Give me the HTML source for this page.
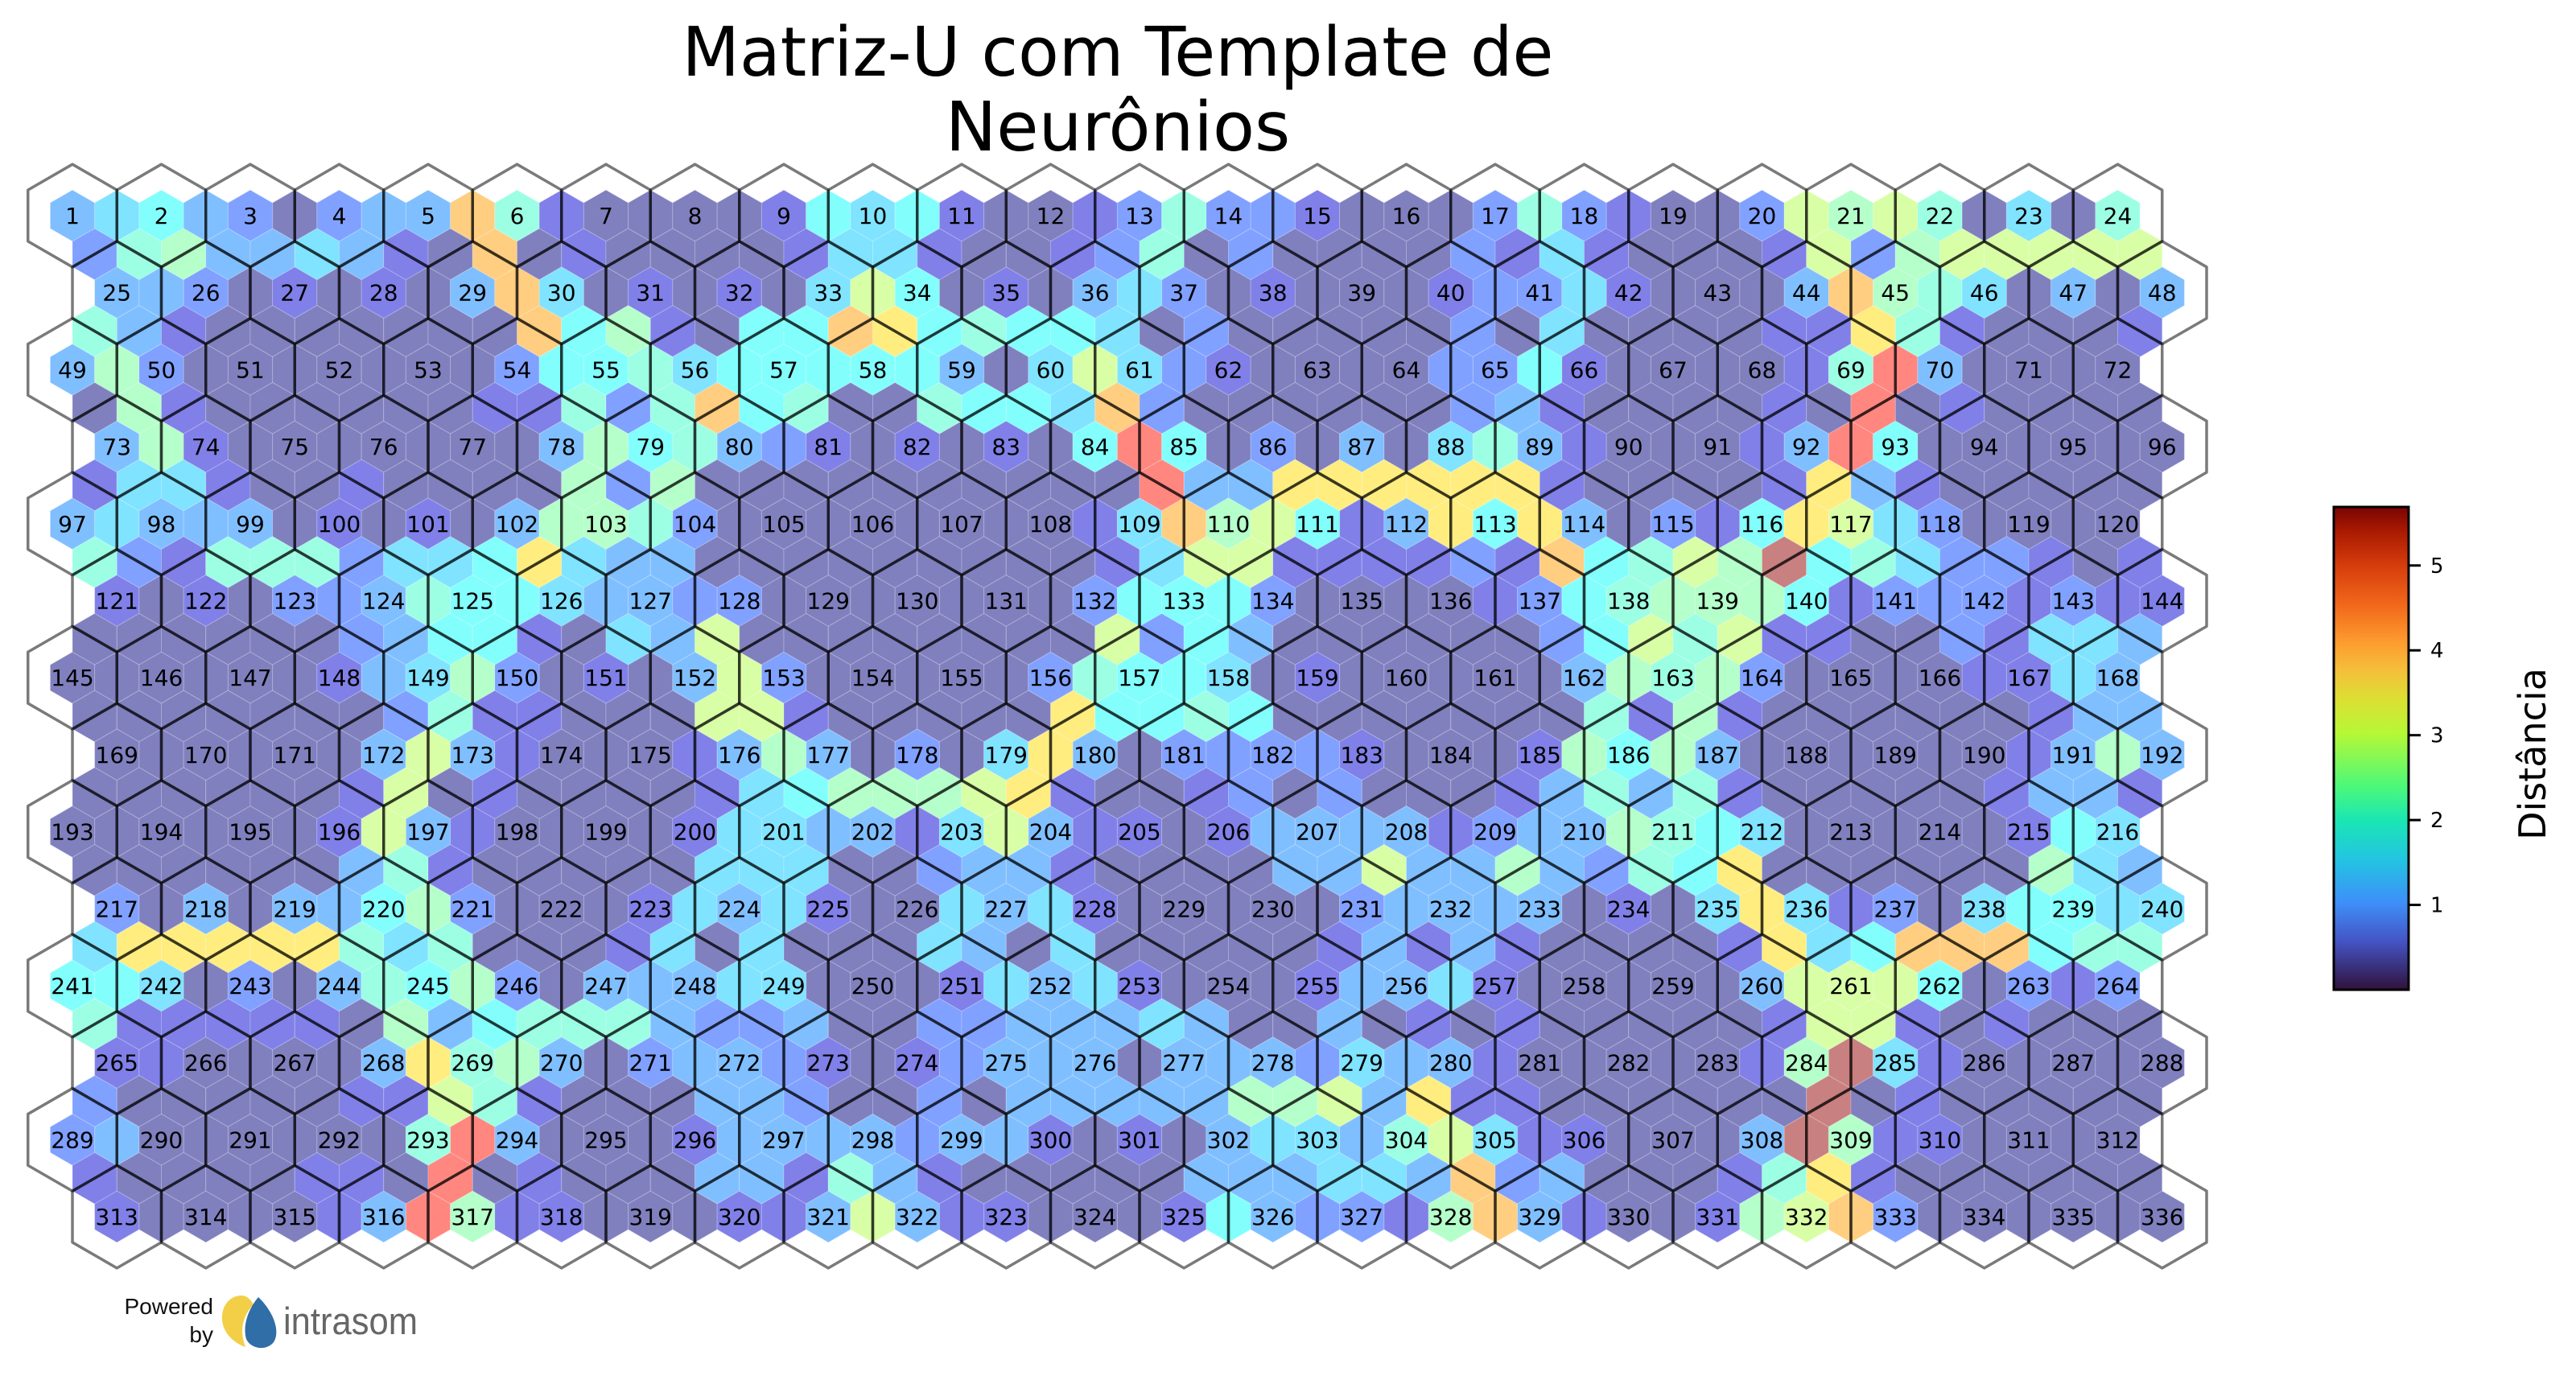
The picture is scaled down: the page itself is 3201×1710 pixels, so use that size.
<!DOCTYPE html>
<html><head><meta charset="utf-8">
<style>
html,body{margin:0;padding:0;background:#fff;}
svg{display:block;font-family:"DejaVu Sans","Liberation Sans",sans-serif;}
</style></head>
<body>
<svg id="chart" width="3201" height="1710" viewBox="0 0 3201 1710" xmlns="http://www.w3.org/2000/svg">
  <defs>
    <linearGradient id="turbo" x1="0" y1="1" x2="0" y2="0">
      <stop offset="0" stop-color="#30123b"/>
      <stop offset="0.1" stop-color="#4454c4"/>
      <stop offset="0.18" stop-color="#3e8ff8"/>
      <stop offset="0.27" stop-color="#23c4e2"/>
      <stop offset="0.35" stop-color="#1ae6b4"/>
      <stop offset="0.42" stop-color="#4bf87a"/>
      <stop offset="0.53" stop-color="#b5f836"/>
      <stop offset="0.6" stop-color="#dbe033"/>
      <stop offset="0.66" stop-color="#f5c03a"/>
      <stop offset="0.72" stop-color="#fd9b2f"/>
      <stop offset="0.8" stop-color="#f0661a"/>
      <stop offset="0.88" stop-color="#d53c0c"/>
      <stop offset="0.95" stop-color="#a91a02"/>
      <stop offset="1" stop-color="#7a0403"/>
    </linearGradient>
  </defs>
  <text x="1389" y="94" font-size="85" text-anchor="middle" textLength="1083" lengthAdjust="spacingAndGlyphs">Matriz-U com Template de</text>
  <text x="1389" y="187" font-size="85" text-anchor="middle">Neurônios</text>
  <g id="cells"></g>
  <g id="outlines"></g>
  <g id="labels"></g>
  <g id="colorbar">
    <rect x="2900" y="630" width="93" height="600" fill="url(#turbo)" stroke="#000" stroke-width="3"/>
    <g id="cbticks"></g>
    <text x="3163" y="937" font-size="46" text-anchor="middle" transform="rotate(-90 3163 937)">Distância</text>
  </g>
  <g>
    <text x="265" y="1633" font-size="28" text-anchor="end" fill="#111" font-family="Liberation Sans, sans-serif">Powered</text>
    <text x="265" y="1668" font-size="28" text-anchor="end" fill="#111" font-family="Liberation Sans, sans-serif">by</text>
    <path d="M300,1610 C287,1610 275,1621 276,1640 C277,1656 290,1669 305,1674 C298,1655 300,1637 315,1621 C311,1614 306,1610 300,1610 Z" fill="#f2cf47"/>
    <path d="M321,1612 C306,1630 302,1650 306,1664 C312,1677 331,1679 340,1668 C349,1654 339,1629 321,1612 Z" fill="#2f6ea6"/>
    <text x="352" y="1658" font-size="47" fill="#666" font-family="Liberation Sans, sans-serif" textLength="167" lengthAdjust="spacingAndGlyphs">intrasom</text>
  </g>
</svg>
<script>
// U-matrix levels per cell, 27 rows x 47 columns (chars index into levelDist)
const umatRows = [
["345320233a","6100001545","1001262210","0026210028","7860406"].join(""),
["267334310a","0100001441","0012602000","0214100018","2788888"].join(""),
["332010103a","4010104850","1034201000","122410003a","7640303"].join(""),
["6310000000","a571055a95","6554020000","0204000011","9610001"].join(""),
["3720000000","2556455555","3048421000","0225100001","6b30000"].join(""),
["0710000001","1626a56006","554a200000","0231000010","b010000"].join(""),
["3710000000","3756321010","105b502030","463100013b","5000000"].join(""),
["1441001000","0727000000","0000b33999","9991000019","3100000"].join(""),
["3433301010","3776200000","00014a7851","3959302159","8420000"].join(""),
["6216662445","9433000000","0001488111","121a5687c5","6422101"].join(""),
["1010223655","4332200000","0025552000","0125677751","2221211"].join(""),
["0000002355","1043800000","0008253000","0002586811","0021443"].join(""),
["0000001347","2010382000","0026554010","0000376720","0001143"].join(""),
["0000000261","1000881000","0095565000","0000617100","0000133"].join(""),
["0000003831","0001373020","4930222210","0017573000","0001373"].join(""),
["0000001801","0000145777","8910012020","0013636100","0001331"].join(""),
["0000001831","0000144331","4831101333","3123376540","0000154"].join(""),
["0000003610","0000444002","3310000338","3373265900","0000743"].join(""),
["2030335720","0014341004","3410000023","3330104941","2045544"].join(""),
["4999996460","0014040004","3040000013","1310000194","5aaa566"].join(""),
["5540203657","2033344000","1434100013","3410000038","8850212"].join(""),
["6111110735","6663223002","2333430030","1010000018","8101000"].join(""),
["1100003967","3023321012","3330333243","310000017c","4100000"].join(""),
["2000001186","1000332002","0333337783","911000000c","0100000"].join(""),
["230000006b","3000133332","3310103443","684110003c","7110000"].join(""),
["10000110b0","1000331631","0000033344","3a23000169","1000000"].join(""),
["1000013b71","1000113831","1000153221","7a3100178a","2000000"].join("")
];
const levelKeys = ["0","1","2","3","4","5","6","7","8","9","a","b","c"];
const levelDist = [0.0,0.46,1.08,1.42,1.82,2.16,2.45,2.73,3.13,3.76,4.1,4.89,5.58];
const colorbarTicks = [1,2,3,4,5];
const nCols = 24, nRows = 14;

const uMax = 5.69;
const X0 = 90, Y0 = 268, DX = 110.5, R = DX/Math.sqrt(3), DY = 1.5*R;
const sdx = DX/2, sr = R/2, sdy = DY/2;
const NS = "http://www.w3.org/2000/svg";

function jet(t){
  t = Math.max(0, Math.min(1, t));
  const c = v => Math.max(0, Math.min(1, v));
  const r = c(1.5 - Math.abs(4*t-3)), g = c(1.5 - Math.abs(4*t-2)), b = c(1.5 - Math.abs(4*t-1));
  const m = v => Math.round(255*(0.5*v + 0.5));
  return "rgb(" + m(r) + "," + m(g) + "," + m(b) + ")";
}
function hexPts(cx, cy, rad){
  const p = [];
  for (let k = 0; k < 6; k++){
    const a = Math.PI/180*(-90 + 60*k);
    p.push((cx + rad*Math.cos(a)).toFixed(2) + "," + (cy + rad*Math.sin(a)).toFixed(2));
  }
  return p.join(" ");
}
function cellX(r, k){
  if (r % 2 === 1) return X0 + sdx/2 + sdx*k;
  return X0 + sdx*k + ((r/2) % 2 === 1 ? sdx : 0);
}
function cellY(r){ return Y0 + sdy*r; }

const cells = document.getElementById("cells");
umatRows.forEach((row, r) => {
  for (let k = 0; k < Math.min(47, row.length); k++){
    const idx = levelKeys.indexOf(row[k]);
    const d = levelDist[idx < 0 ? 0 : idx];
    const h = document.createElementNS(NS, "polygon");
    h.setAttribute("points", hexPts(cellX(r,k), cellY(r), sr));
    h.setAttribute("fill", jet(d/uMax));
    h.setAttribute("stroke", "rgba(255,255,255,0.22)");
    h.setAttribute("stroke-width", "1");
    
    
    cells.appendChild(h);
  }
});

const outlines = document.getElementById("outlines");
const labels = document.getElementById("labels");
for (let j = 0; j < nRows; j++){
  for (let i = 0; i < nCols; i++){
    const cx = X0 + DX*i + (j % 2 ? DX/2 : 0), cy = Y0 + DY*j;
    const o = document.createElementNS(NS, "polygon");
    o.setAttribute("points", hexPts(cx, cy, R));
    o.setAttribute("fill", "none");
    o.setAttribute("stroke", "rgba(0,0,0,0.52)");
    o.setAttribute("stroke-width", "3.5");
    o.setAttribute("stroke-linejoin", "round");
    
    
    outlines.appendChild(o);
    const t = document.createElementNS(NS, "text");
    t.setAttribute("x", cx);
    t.setAttribute("y", cy + 10);
    t.setAttribute("font-size", "28");
    t.setAttribute("text-anchor", "middle");
    t.setAttribute("fill", "#000");
    t.textContent = String(j*nCols + i + 1);
    
    
    labels.appendChild(t);
  }
}

// colorbar ticks
const cbTop = 630, cbBottom = 1230, cbMin = 0.0, cbMax = uMax;
const cbY = v => cbBottom - (v - cbMin)/(cbMax - cbMin)*(cbBottom - cbTop);
const cbt = document.getElementById("cbticks");
colorbarTicks.forEach(v => {
  const y = cbY(v);
  const l = document.createElementNS(NS, "line");
  l.setAttribute("x1", 2993); l.setAttribute("x2", 3008);
  l.setAttribute("y1", y); l.setAttribute("y2", y);
  l.setAttribute("stroke", "#000"); l.setAttribute("stroke-width", "3");
  
  
  cbt.appendChild(l);
  const t = document.createElementNS(NS, "text");
  t.setAttribute("x", 3020); t.setAttribute("y", y + 9);
  t.setAttribute("font-size", "26");
  t.textContent = String(v);
  
  
  cbt.appendChild(t);
});
</script>
</body></html>
